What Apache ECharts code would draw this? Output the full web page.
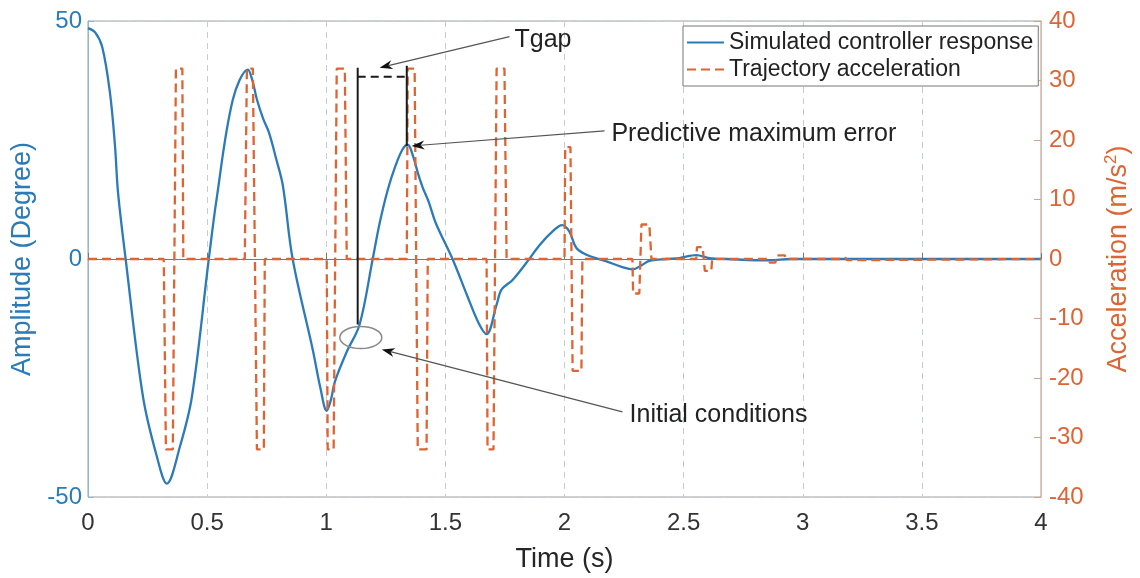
<!DOCTYPE html>
<html><head><meta charset="utf-8">
<script src="https://cdn.jsdelivr.net/npm/echarts@6/dist/echarts.min.js"></script>
<style>html,body{margin:0;padding:0;background:#fff}#c{width:1140px;height:578px}</style>
</head><body><div id="c"></div>
<script>
// ---- data ----
const respTime = [0, 0.03, 0.06, 0.092, 0.113, 0.126, 0.158, 0.231, 0.289, 0.331, 0.386, 0.436, 0.507, 0.54, 0.608, 0.671, 0.69, 0.709, 0.735, 0.76, 0.79, 0.818, 0.859, 0.944, 0.975, 1.002, 1.02, 1.036, 1.086, 1.14, 1.195, 1.224, 1.258, 1.29, 1.32, 1.342, 1.365, 1.385, 1.405, 1.43, 1.46, 1.53, 1.59, 1.64, 1.673, 1.715, 1.736, 1.782, 1.84, 1.895, 1.95, 1.99, 2.02, 2.05, 2.092, 2.176, 2.243, 2.285, 2.327, 2.356, 2.428, 2.482, 2.553, 2.608, 2.68, 2.86, 2.95, 3.3, 3.7, 4];
const respAmp = [48.5, 47.6, 44.5, 35, 24, 14, 0, -29, -41.5, -47.2, -39.4, -29, 0, 12.7, 33.5, 39.8, 37.5, 33.5, 29.5, 26.5, 21, 15.4, 0, -19.2, -27, -31.9, -29.5, -25.8, -19.5, -13.75, 0, 7.5, 14.5, 19.5, 23, 24, 21.5, 18, 15, 12, 7.5, 0, -7.5, -13.5, -15.8, -9.6, -6.4, -4.4, -0.8, 2.9, 5.8, 7.1, 5.8, 2.3, 0.9, -0.5, -1.7, -2.2, -1.2, -0.4, 0, 0.2, 0.8, 0.2, 0, -0.3, 0, 0, 0, 0];

const accTime = [0, 0.318, 0.327, 0.356, 0.369, 0.396, 0.400, 0.658, 0.667, 0.692, 0.709, 0.738, 0.742, 1.002, 1.006, 1.031, 1.044, 1.078, 1.086, 1.338, 1.342, 1.371, 1.384, 1.421, 1.426, 1.673, 1.677, 1.702, 1.715, 1.748, 1.757, 2.000, 2.003, 2.025, 2.034, 2.071, 2.075, 2.285, 2.288, 2.314, 2.323, 2.356, 2.365, 2.553, 2.556, 2.580, 2.589, 2.616, 2.620, 2.858, 2.861, 2.885, 2.893, 2.925, 2.930, 3.160, 3.163, 3.180, 3.185, 3.200, 3.205, 4.0];
const accVal = [0, 0, -32, -32, 32, 32, 0, 0, 32, 32, -32, -32, 0, 0, -32, -32, 32, 32, 0, 0, 32, 32, -32, -32, 0, 0, -32, -32, 32, 32, 0, 0, 18.8, 18.8, -18.8, -18.8, 0, 0, -5.8, -5.8, 5.8, 5.8, 0, 0, 2, 2, -2, -2, 0, 0, -0.6, -0.6, 0.6, 0.6, 0, 0, 0.2, 0.2, -0.2, -0.2, 0, 0];

const seriesNames = ['Simulated controller response', 'Trajectory acceleration'];
const xTickStep = 0.5;
const ampTicks = [-50, 0, 50];
const accTicks = [-40, 40, 10];

// annotations (data coordinates, left axis)
const tgapLines = [[1.132, 40.2, -13.75], [1.338, 40.6, 23.75]];
const tgapDash = [1.132, 1.338, 38.3];
const arrowFrom = [[1.769, 46.7], [2.168, 26.9], [2.243, -32.1]];
const arrowTo = [[1.224, 40.2], [1.358, 23.75], [1.233, -19.0]];
const noteText = ['Tgap', 'Predictive maximum error', 'Initial conditions'];
const notePos = [[1.79, 46], [2.197, 26.25], [2.273, -32.7]];
const ellipseCenter = [1.145, -16.5];

// ---- chart ----
const BLUE = '#2b7bb9', ORANGE = '#de6533';
const FONT = 'Liberation Sans, Arial, Helvetica, sans-serif';
const chart = echarts.init(document.getElementById('c'), null, {renderer: 'canvas'});

function renderNotes(params, api) {
  const ch = [];
  const P = (t, v) => api.coord([t, v]);
  tgapLines.forEach(l => {
    const a = P(l[0], l[1]), b = P(l[0], l[2]);
    ch.push({type: 'line', shape: {x1: a[0], y1: a[1], x2: b[0], y2: b[1]}, style: {stroke: '#1a1a1a', lineWidth: 2}});
  });
  {
    const a = P(tgapDash[0], tgapDash[2]), b = P(tgapDash[1], tgapDash[2]);
    ch.push({type: 'line', shape: {x1: a[0], y1: a[1], x2: b[0], y2: b[1]}, style: {stroke: '#1a1a1a', lineWidth: 2, lineDash: [8, 5]}});
  }
  arrowFrom.forEach((f, i) => {
    const a = P(f[0], f[1]), b = P(arrowTo[i][0], arrowTo[i][1]);
    const dx = b[0] - a[0], dy = b[1] - a[1], L = Math.hypot(dx, dy);
    const ux = dx / L, uy = dy / L, nx = -uy, ny = ux;
    const len = 13, hw = 4.5, notch = 9;
    const base = [b[0] - ux * len, b[1] - uy * len];
    const nb = [b[0] - ux * notch, b[1] - uy * notch];
    ch.push({type: 'line', shape: {x1: a[0], y1: a[1], x2: nb[0], y2: nb[1]}, style: {stroke: '#555', lineWidth: 1.2}});
    ch.push({type: 'polygon', shape: {points: [b, [base[0] + nx * hw, base[1] + ny * hw], nb, [base[0] - nx * hw, base[1] - ny * hw]]}, style: {fill: '#111'}});
  });
  notePos.forEach((p, i) => {
    const a = P(p[0], p[1]);
    ch.push({type: 'text', x: a[0], y: a[1], style: {text: noteText[i], fill: '#222', font: '25px ' + FONT, textAlign: 'left', textVerticalAlign: 'middle'}});
  });
  {
    const c = P(ellipseCenter[0], ellipseCenter[1]);
    ch.push({type: 'ellipse', shape: {cx: c[0], cy: c[1], rx: 21, ry: 11}, style: {fill: 'none', stroke: '#8a8a8a', lineWidth: 1.5}});
  }
  return {type: 'group', children: ch};
}

const option = {
  backgroundColor: '#fff',
  animation: false,
  textStyle: {fontFamily: FONT},
  grid: {left: 88, right: 98, top: 21, bottom: 77, show: true, borderColor: '#a0a0a0', borderWidth: 1, backgroundColor: 'transparent'},
  legend: {
    data: seriesNames, orient: 'vertical', left: 683, top: 26,
    itemWidth: 37, itemHeight: 12, itemGap: 4, padding: [5, 5, 5, 3],
    itemStyle: {opacity: 0},
    borderColor: '#777', borderWidth: 1, backgroundColor: '#fff',
    textStyle: {fontSize: 23, color: '#222', fontFamily: FONT}, selectedMode: false, z: 20
  },
  xAxis: {
    type: 'value', min: 0, max: 4, interval: xTickStep,
    name: 'Time (s)', nameLocation: 'middle', nameGap: 49,
    nameTextStyle: {fontSize: 27, color: '#262626', fontFamily: FONT},
    axisLine: {lineStyle: {color: '#777', width: 1}},
    axisTick: {inside: true, length: 6, lineStyle: {color: '#777'}},
    axisLabel: {fontSize: 24, color: '#333', margin: 14, fontFamily: FONT},
    splitLine: {show: true, lineStyle: {color: '#c4ccd4', type: [6, 5], width: 1}}
  },
  yAxis: [
    {
      type: 'value', min: ampTicks[0], max: ampTicks[2], interval: ampTicks[2] - ampTicks[1], position: 'left',
      name: 'Amplitude (Degree)', nameLocation: 'middle', nameGap: 51,
      nameTextStyle: {fontSize: 27, color: BLUE, fontFamily: FONT},
      axisLine: {show: true, lineStyle: {color: '#8fb8d6', width: 1}},
      axisTick: {show: true, inside: true, length: 6, lineStyle: {color: '#8fb8d6'}},
      axisLabel: {fontSize: 24, color: BLUE, margin: 6, padding: [5, 0, 0, 0], fontFamily: FONT},
      splitLine: {show: true, lineStyle: {color: '#c4ccd4', type: [6, 5], width: 1}}
    },
    {
      type: 'value', min: accTicks[0], max: accTicks[1], interval: accTicks[2], position: 'right',
      name: 'Acceleration (m/s{sup|2})', nameLocation: 'middle', nameGap: 62,
      nameTextStyle: {fontSize: 27, color: ORANGE, fontFamily: FONT,
        rich: {sup: {fontSize: 17, color: ORANGE, verticalAlign: 'top', padding: [0, 0, 14, 0], fontFamily: FONT}}},
      axisLine: {show: true, lineStyle: {color: '#dcb89c', width: 1}},
      axisTick: {show: true, inside: true, length: 7, lineStyle: {color: '#c9a88c'}},
      axisLabel: {fontSize: 24, color: ORANGE, margin: 8, padding: [5, 0, 0, 0], fontFamily: FONT},
      splitLine: {show: false}
    }
  ],
  series: [
    {
      name: seriesNames[0], type: 'line', yAxisIndex: 0, z: 3,
      data: respTime.map((t, i) => [t, respAmp[i]]),
      smooth: 0.35, symbol: 'none', showSymbol: false,
      lineStyle: {color: BLUE, width: 2.3}, itemStyle: {color: BLUE}
    },
    {
      name: seriesNames[1], type: 'line', yAxisIndex: 1, z: 4,
      data: accTime.map((t, i) => [t, accVal[i]]),
      symbol: 'none', showSymbol: false,
      lineStyle: {color: ORANGE, width: 2.3, type: [9, 5]}, itemStyle: {color: ORANGE}
    },
    {
      type: 'custom', xAxisIndex: 0, yAxisIndex: 0, z: 6, silent: true, clip: false,
      data: [[0, 0]], renderItem: renderNotes
    }
  ]
};
chart.setOption(option);
</script>
</body></html>
